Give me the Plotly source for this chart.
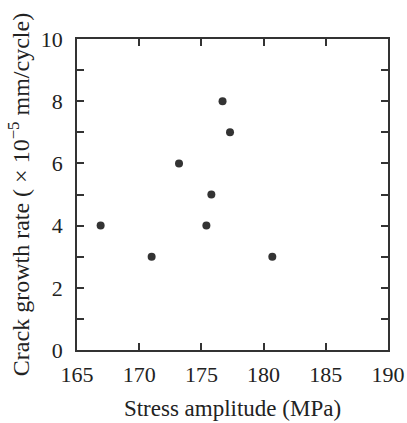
import plotly.graph_objects as go

stress_amplitude = [166.9, 171.0, 173.2, 175.4, 175.8, 176.7, 177.3, 180.7]
crack_growth_rate = [4, 3, 6, 4, 5, 8, 7, 3]

x_tick_vals = [165, 170, 175, 180, 185, 190]
x_tick_labels = ["165", "170", "175", "180", "185", "190"]
y_tick_vals = [0, 2, 4, 6, 8, 10]
y_tick_labels = ["0", "2", "4", "6", "8", "10"]

font_family = "Liberation Serif, Times New Roman, serif"
ink = "#333333"

fig = go.Figure()
fig.add_trace(go.Scatter(
    x=stress_amplitude, y=crack_growth_rate, mode="markers",
    marker=dict(size=8, color=ink, line=dict(width=0)),
    showlegend=False, cliponaxis=False,
))

fig.update_layout(
    width=407, height=423,
    margin=dict(l=77, r=19, t=39, b=73),
    paper_bgcolor="white", plot_bgcolor="white",
    font=dict(family=font_family, size=22, color="#222222"),
)
fig.update_xaxes(
    range=[165, 190], tickvals=x_tick_vals, ticktext=x_tick_labels,
    showgrid=False, zeroline=False, automargin=False,
    showline=True, linecolor=ink, linewidth=1.5, mirror="ticks",
    ticks="inside", ticklen=7, tickwidth=1.5, tickcolor=ink,
    tickfont=dict(size=22), ticklabelstandoff=4, ticklabeloverflow="allow",
    title=dict(text="Stress amplitude (MPa)", font=dict(size=23), standoff=14),
)
fig.update_yaxes(
    range=[0, 10], tickvals=y_tick_vals, ticktext=y_tick_labels,
    showgrid=False, zeroline=False, automargin=False,
    showline=True, linecolor=ink, linewidth=1.5, mirror="ticks",
    ticks="inside", ticklen=7, tickwidth=1.5, tickcolor=ink,
    minor=dict(dtick=1, ticks="inside", ticklen=7, tickwidth=1.5, tickcolor=ink, showgrid=False),
    tickfont=dict(size=22), ticklabelstandoff=8,
    title=dict(text="Crack growth rate ( × 10<sup>−5</sup> mm/cycle)",
               font=dict(size=24), standoff=4),
)

# remove the page's default 8px body margin so the figure sits at the window origin
fig.write_html("out.html", config={"displayModeBar": False},
               post_script="document.body.style.margin='0';")
